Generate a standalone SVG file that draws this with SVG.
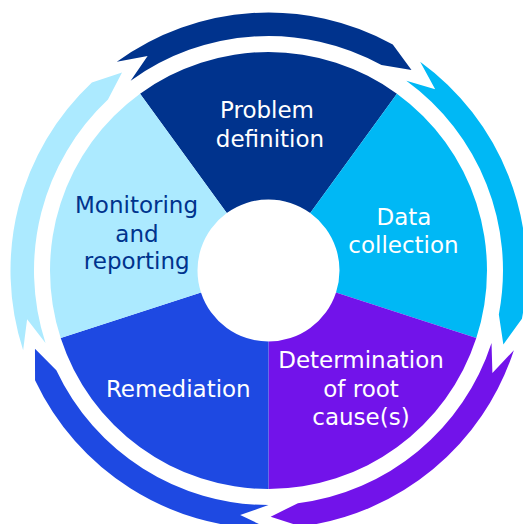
<svg xmlns="http://www.w3.org/2000/svg" xmlns:xlink="http://www.w3.org/1999/xlink" width="523" height="524" viewBox="0 0 523 524">
  <style>
    .lbl { font-family: "DejaVu Sans", "Liberation Sans", sans-serif; font-size: 23px; text-anchor: middle; }
    .w { fill: #ffffff; }
    .n { fill: #00338D; }
    .navy { fill: #00338D; }
    .cyan { fill: #00B8F5; }
    .purple { fill: #7213EA; }
    .blue { fill: #1E49E2; }
    .light { fill: #ACEAFF; }
  </style>
  <defs>
    <path id="slice" d="M -128.43 -176.77 A 218.5 218.5 0 0 1 128.43 -176.77 L 41.73 -57.44 A 71 71 0 0 0 -41.73 -57.44 Z"/>
    <path id="arrow" d="M -151.65 -208.73 A 258 258 0 0 1 124.29 -226.09 L 143.0 -200.48 L 112.97 -205.49 A 234.5 234.5 0 0 0 -137.84 -189.71 L -120.88 -214.54 Z"/>
  </defs>
  <rect width="523" height="524" fill="#ffffff"/>
  <g id="connectors" transform="translate(268.5 270.5)">
    <use xlink:href="#arrow" href="#arrow" class="navy"/>
    <use xlink:href="#arrow" href="#arrow" class="cyan" transform="rotate(72)"/>
    <use xlink:href="#arrow" href="#arrow" class="purple" transform="rotate(144)"/>
    <use xlink:href="#arrow" href="#arrow" class="blue" transform="rotate(216)"/>
    <use xlink:href="#arrow" href="#arrow" class="light" transform="rotate(288)"/>
  </g>
  <g id="problem-definition">
    <use xlink:href="#slice" href="#slice" class="navy" transform="translate(268.5 270.5)"/>
    <text class="lbl w" x="267" y="118">Problem</text>
    <text class="lbl w" x="270" y="146.5">definition</text>
  </g>
  <g id="data-collection">
    <use xlink:href="#slice" href="#slice" class="cyan" transform="translate(268.5 270.5) rotate(72)"/>
    <text class="lbl w" x="404" y="225">Data</text>
    <text class="lbl w" x="403.5" y="253.3">collection</text>
  </g>
  <g id="root-cause">
    <use xlink:href="#slice" href="#slice" class="purple" transform="translate(268.5 270.5) rotate(144)"/>
    <text class="lbl w" x="361" y="368.3">Determination</text>
    <text class="lbl w" x="361" y="396.7">of root</text>
    <text class="lbl w" x="361" y="425">cause(s)</text>
  </g>
  <g id="remediation">
    <use xlink:href="#slice" href="#slice" class="blue" transform="translate(268.5 270.5) rotate(216)"/>
    <text class="lbl w" x="178.3" y="396.7">Remediation</text>
  </g>
  <g id="monitoring-reporting">
    <use xlink:href="#slice" href="#slice" class="light" transform="translate(268.5 270.5) rotate(288)"/>
    <text class="lbl n" x="136.5" y="213.3">Monitoring</text>
    <text class="lbl n" x="137" y="241.7">and</text>
    <text class="lbl n" x="136.7" y="268.5">reporting</text>
  </g>
</svg>
